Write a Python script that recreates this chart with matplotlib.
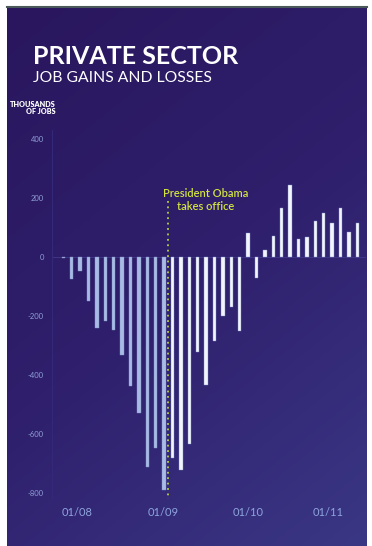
import numpy as np
import matplotlib.pyplot as plt
from matplotlib.colors import LinearSegmentedColormap

# monthly private sector job change, thousands (Jan 2008 - Dec 2010)
months = np.arange(36)
jobs = [-6, -77, -48, -150, -243, -218, -248, -335, -440, -531, -712, -650,
        -791, -684, -723, -635, -322, -435, -286, -200, -172, -251, 81, -73,
        23, 70, 164, 243, 59, 66, 122, 149, 113, 164, 84, 115]
obama_index = 12.5

ytick_vals = [400, 200, 0, -200, -400, -600, -800]
ytick_labels = ["400", "200", "0", "-200", "-400", "-600", "-800"]
xtick_pos = [1.67, 11.9, 22.0, 31.5]
xtick_labels = ["01/08", "01/09", "01/10", "01/11"]

W, H = 372, 546
fig = plt.figure(figsize=(W / 100, H / 100), dpi=100)
fig.patch.set_facecolor("white")

# purple gradient panel
bg = fig.add_axes([7 / W, 0, (367 - 7) / W, (H - 8) / H])
bg.set_axis_off()
cmap = LinearSegmentedColormap.from_list("bg", ["#29165e", "#2f1f6c", "#3a3785"])
gx, gy = np.meshgrid(np.linspace(0, 1, 200), np.linspace(0, 1, 300))
grad = 0.35 * gx + 0.65 * gy
bg.imshow(grad, cmap=cmap, aspect="auto", extent=[0, 1, 0, 1], origin="upper")
bg.set_xlim(0, 1)
bg.set_ylim(0, 1)
fig.add_artist(plt.Line2D([7 / W, 367 / W], [(H - 7) / H, (H - 7) / H],
                          color="#4a5a5a", lw=1.5, transform=fig.transFigure))

# chart axes
ax = fig.add_axes([52 / W, (H - 500) / H, (366 - 52) / W, 370 / H])
ax.patch.set_alpha(0)
ax.set_xlim(-1.35, 36.04)
ax.set_ylim(-825, 429)

colors = ["#a9bbe4" if m < obama_index else "#f3f5fc" for m in months]
ax.bar(months, jobs, width=0.42, color=colors, edgecolor="#8090c8",
       linewidth=0.3, zorder=3)

ax.axhline(0, color="#43388a", lw=0.6, zorder=1)
ax.axvline(-1.35, color="#35297a", lw=0.7, zorder=1)
ax.plot([obama_index, obama_index], [189, -822], color="#b4d23c",
        lw=1.3, ls=(0, (1, 2)), zorder=4)
ax.text(17.0, 192, "President Obama\ntakes office",
        ha="center", va="center", color="#d2e33f", fontsize=8,
        family="Lato", weight="semibold", linespacing=1.2)

for s in ax.spines.values():
    s.set_visible(False)
ax.set_yticks(ytick_vals)
ax.set_yticklabels(ytick_labels)
ax.set_xticks(xtick_pos)
ax.set_xticklabels(xtick_labels)
ax.tick_params(axis="y", length=0, pad=6, labelsize=5.5, labelcolor="#8e9fd6")
ax.tick_params(axis="x", length=0, pad=5, labelsize=8, labelcolor="#8ea4dc")
for lab in ax.get_xticklabels() + ax.get_yticklabels():
    lab.set_family("Lato")

fig.text(33 / W, 1 - 57 / H, "PRIVATE SECTOR", color="white", fontsize=18,
         weight="bold", family="Lato", va="center", ha="left")
fig.text(33 / W, 1 - 78 / H, "JOB GAINS AND LOSSES", color="white",
         fontsize=11.3, family="Lato", va="center", ha="left")
fig.text(56 / W, 1 - 108 / H, "THOUSANDS\nOF JOBS", color="white",
         fontsize=5.2, weight="heavy", family="Lato", va="center", ha="right",
         linespacing=1.05)

fig.savefig("out.png", dpi=100, facecolor=fig.get_facecolor())
